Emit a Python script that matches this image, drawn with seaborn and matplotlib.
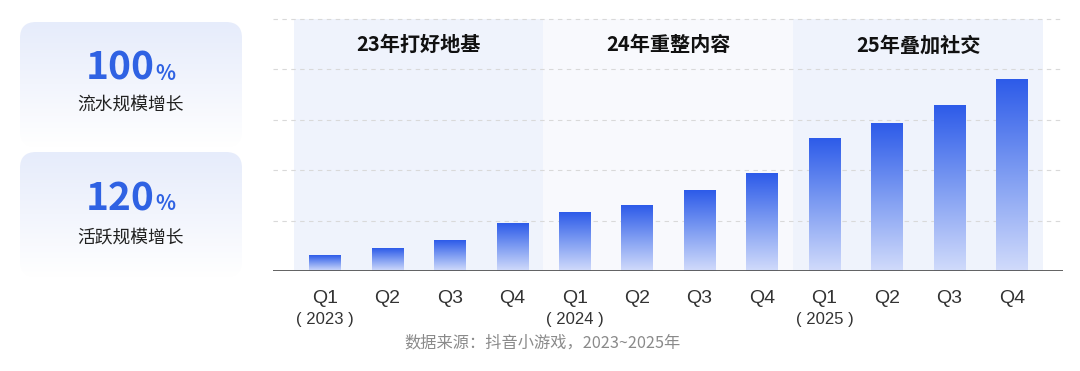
import numpy as np
import pandas as pd
import matplotlib
matplotlib.use("Agg")
import matplotlib.pyplot as plt
import seaborn as sns
from matplotlib.colors import LinearSegmentedColormap
from matplotlib.patches import FancyBboxPatch, Rectangle

# ---- data ----
periods = ["2023Q1", "2023Q2", "2023Q3", "2023Q4",
           "2024Q1", "2024Q2", "2024Q3", "2024Q4",
           "2025Q1", "2025Q2", "2025Q3", "2025Q4"]
quarter_labels = ["Q1", "Q2", "Q3", "Q4"] * 3
values = [0.30, 0.44, 0.60, 0.94, 1.16, 1.30, 1.59, 1.94, 2.63, 2.93, 3.28, 3.80]
year_labels = ["( 2023 )", "( 2024 )", "( 2025 )"]
phase_titles = ["23年打好地基", "24年重整内容", "25年叠加社交"]
kpi_values = ["100", "120"]
kpi_labels = ["流水规模增长", "活跃规模增长"]
source_text = "数据来源：抖音小游戏，2023~2025年"

sns.set_theme(style="white")
plt.rcParams["font.family"] = ["Noto Sans CJK SC", "DejaVu Sans"]

W, H = 1080, 371
fig = plt.figure(figsize=(W / 100, H / 100), dpi=100)
fig.patch.set_facecolor("white")

# background axes in pixel coordinates
bg = fig.add_axes([0, 0, 1, 1], zorder=0)
bg.set_xlim(0, W)
bg.set_ylim(H, 0)
bg.axis("off")

card_cmap = LinearSegmentedColormap.from_list("card", ["#e6ecfb", "#f2f5fd", "#ffffff"])
card_boxes = [(20, 22, 222, 125), (20, 152, 222, 125)]
grad = np.linspace(0, 1, 256).reshape(-1, 1)
for (cx, cy, cw, ch) in card_boxes:
    patch = FancyBboxPatch((cx, cy), cw, ch, boxstyle="round,pad=0,rounding_size=16",
                           facecolor="none", edgecolor="none")
    bg.add_patch(patch)
    im = bg.imshow(grad, extent=[cx, cx + cw, cy + ch, cy], cmap=card_cmap,
                   aspect="auto", origin="upper", zorder=1)
    im.set_clip_path(patch)

kpi_y = [68, 199]
lab_y = [105, 238]
for v, lab, yv, yl in zip(kpi_values, kpi_labels, kpi_y, lab_y):
    bg.text(155, yv, v, ha="right", va="center", fontsize=28, fontweight="bold",
            color="#2f62e3", zorder=3)
    bg.text(155, yv + 5, "%", ha="left", va="center", fontsize=15, fontweight="bold",
            color="#2f62e3", zorder=3)
    bg.text(131, yl, lab, ha="center", va="center", fontsize=12.8, color="#222222", zorder=3)

bg.text(542, 343, source_text, ha="center", va="center", fontsize=11.7, color="#8a8a8a")

# ---- chart axes ----
base_px, unit_px = 271, 50.4
ylim_top = 5.2
ax_top_px = base_px - ylim_top * unit_px
ax = fig.add_axes([273 / W, 1 - base_px / H, (1063 - 273) / W, (base_px - ax_top_px) / H], zorder=1)
ax.patch.set_alpha(0)

df = pd.DataFrame({"period": periods, "value": values})
sns.barplot(data=df, x="period", y="value", ax=ax, width=0.5, color="#3a66ea",
            saturation=1, zorder=3)

bar_cmap = LinearSegmentedColormap.from_list("bar", ["#d1dbfb", "#7f9df2", "#2d5be9"])
for p in ax.patches:
    x0, w, h = p.get_x(), p.get_width(), p.get_height()
    p.set_visible(False)
    ax.imshow(np.linspace(1, 0, 256).reshape(-1, 1), extent=[x0, x0 + w, 0, h],
              cmap=bar_cmap, aspect="auto", origin="upper", zorder=3)

# phase bands
band_colors = ["#eff3fc", "#f8f9fd", "#eff3fc"]
for i, (title, bc) in enumerate(zip(phase_titles, band_colors)):
    x0 = -0.5 + 4 * i
    ax.add_patch(Rectangle((x0, 0), 4, 5, facecolor=bc, edgecolor="none", zorder=0))
    ax.text(x0 + 2, 4.49, title, ha="center", va="center", fontsize=14.5,
            fontweight="bold", color="#111111", zorder=4)

for g in range(1, 6):
    ax.axhline(g, color="#d9d9d9", lw=0.8, dashes=(4, 4), zorder=1)
ax.axhline(0, color="#555555", lw=1.3, zorder=5)

ax.set_xlim(-0.83, 11.82)
ax.set_ylim(0, ylim_top)
ax.set_yticks([])
ax.set_xlabel("")
ax.set_ylabel("")
ax.set_xticks(range(len(periods)))
ax.set_xticklabels(quarter_labels)
for t in ax.get_xticklabels():
    t.set_fontfamily(["Liberation Sans", "DejaVu Sans"])
    t.set_fontsize(14)
    t.set_color("#333333")
ax.tick_params(axis="x", length=0, pad=14)
for s in ax.spines.values():
    s.set_visible(False)

for i, yl in enumerate(year_labels):
    ax.text(4 * i, -0.97, yl, ha="center", va="center", fontsize=12, color="#333333",
            family=["Liberation Sans", "DejaVu Sans"], clip_on=False)

fig.savefig("out.png", dpi=100, facecolor="white")
